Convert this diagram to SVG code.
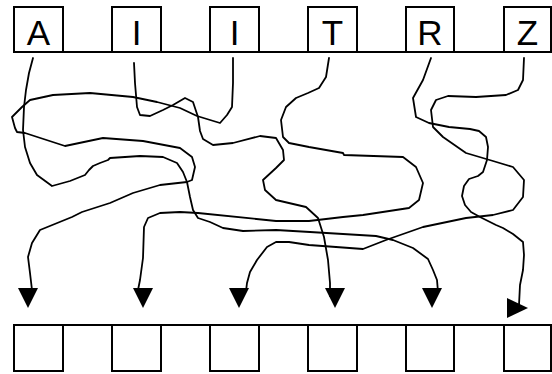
<svg xmlns="http://www.w3.org/2000/svg" width="552" height="374" viewBox="0 0 552 374">
<style>
.box{fill:#fff;stroke:#000;stroke-width:2}
.rail{stroke:#000;stroke-width:2}
.lbl{font-family:"Liberation Sans",Arial,sans-serif;font-size:35px;text-anchor:middle;fill:#000}
.wire{fill:none;stroke:#000;stroke-width:1.8;stroke-linejoin:round;stroke-linecap:round}
.head{fill:#000;stroke:none}
</style>
<rect width="552" height="374" fill="#fff"/>
<g id="rails">
<line class="rail" x1="14" y1="52" x2="552" y2="52"/>
<line class="rail" x1="14" y1="325" x2="552" y2="325"/>
</g>
<g id="top-A"><rect class="box" x="14" y="7" width="49" height="45"/><text class="lbl" x="38.5" y="45">A</text></g>
<g id="top-I1"><rect class="box" x="112" y="7" width="49" height="45"/><text class="lbl" x="136.5" y="45">I</text></g>
<g id="top-I2"><rect class="box" x="210" y="7" width="49" height="45"/><text class="lbl" x="234.5" y="45">I</text></g>
<g id="top-T"><rect class="box" x="308" y="7" width="49" height="45"/><text class="lbl" x="332.5" y="45">T</text></g>
<g id="top-R"><rect class="box" x="406" y="7" width="48" height="45"/><text class="lbl" x="430" y="45">R</text></g>
<g id="top-Z"><rect class="box" x="504" y="7" width="47" height="45"/><text class="lbl" x="527.5" y="45">Z</text></g>
<g id="bot-1"><rect class="box" x="14" y="325" width="49" height="46"/></g>
<g id="bot-2"><rect class="box" x="112" y="325" width="49" height="46"/></g>
<g id="bot-3"><rect class="box" x="210" y="325" width="49" height="46"/></g>
<g id="bot-4"><rect class="box" x="308" y="325" width="49" height="46"/></g>
<g id="bot-5"><rect class="box" x="406" y="325" width="48" height="46"/></g>
<g id="bot-6"><rect class="box" x="504" y="325" width="47" height="46"/></g>
<g id="connectors">
<path class="wire" d="M33,58 L29,73 L26,90 L24,107 L23,130 L25,147 L30,163 L37,175 L52,186 L70,181 L85,175 L89,170 L93,166 L100,163 L108,160 L110,158 L140,156 L163,157 L177,163 L183,172 L187,182 L190,197 L193,210 L198,218 L210,222 L223,228 L243,231 L276,230 L310,232 L376,236 L393,240 L413,248 L428,259 L433,270 L437,280 L438,292"/>
<path class="wire" d="M134,63 L135,83 L137,107 L140,115 L150,116 L163,110 L173,105 L185,98 L193,102 L198,117 L200,131 L203,139 L213,145 L233,143 L260,136 L276,138 L283,150 L284,160 L276,168 L263,180 L265,190 L276,200 L306,207 L318,218 L324,237 L328,260 L330,283 L330,296"/>
<path class="wire" d="M233,58 L233,83 L232,107 L227,115 L220,123 L197,116 L180,108 L157,102 L133,97 L90,93 L53,95 L30,100 L22,107 L12,117 L15,128 L17,132 L25,133 L65,146 L103,138 L143,141 L180,148 L192,157 L195,167 L192,180 L187,182 L160,185 L133,193 L110,203 L82,212 L72,217 L40,230 L32,243 L28,257 L30,273 L32,290"/>
<path class="wire" d="M329,58 L326,77 L319,88 L308,93 L296,98 L286,107 L281,120 L283,137 L289,143 L309,147 L343,153 L344,155 L403,157 L416,167 L423,183 L419,200 L409,208 L363,215 L343,217 L309,221 L276,221 L198,213 L180,212 L160,213 L148,218 L144,227 L143,258 L140,280 L138,290"/>
<path class="wire" d="M431,58 L423,80 L413,98 L416,117 L429,123 L449,127 L470,129 L479,131 L486,137 L488,147 L487,160 L483,172 L478,176 L469,179 L464,186 L462,196 L465,205 L471,212 L480,217 L496,225 L503,228 L513,234 L523,242 L524,255 L523,270 L520,285 L519,305"/>
<path class="wire" d="M524,58 L523,80 L518,90 L506,95 L476,97 L448,96 L436,100 L431,110 L433,127 L443,137 L466,153 L493,161 L513,167 L524,180 L523,197 L513,210 L493,215 L466,218 L423,227 L386,240 L363,249 L309,245 L289,242 L276,242 L267,247 L257,260 L250,272 L247,283 L246,291"/>
<polygon class="head" points="18,288 38,288 28,308"/>
<polygon class="head" points="133,288 153,288 143,308"/>
<polygon class="head" points="229,288 249,288 239,308"/>
<polygon class="head" points="325,288 345,288 335,308"/>
<polygon class="head" points="422,288 442,288 432,308"/>
<polygon class="head" points="507,298 507,318 528,308"/>
</g>
</svg>
